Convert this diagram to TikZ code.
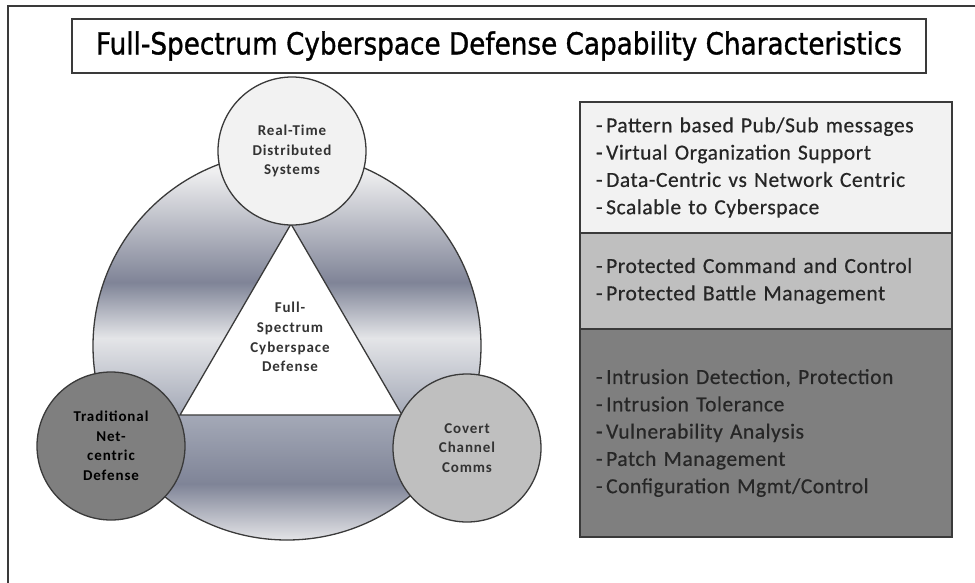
\documentclass[tikz,border=0pt]{standalone}
\usepackage{fontspec}
\usepackage{graphicx}
\setmainfont{Carlito}
\newfontfamily\titlefont[FakeBold=1.2]{DejaVu Sans}
\newfontfamily\hubfont[LetterSpace=6]{Carlito}
\newfontfamily\panelfont[LetterSpace=2.5,FakeBold=0.5]{Carlito}

\definecolor{edge}{HTML}{3A3A3A}
\definecolor{paleA}{HTML}{F2F2F2}
\definecolor{midB}{HTML}{BFBFBF}
\definecolor{darkC}{HTML}{7F7F7F}
\definecolor{ringLight}{HTML}{EFEFF0}
\definecolor{ringBand}{HTML}{E4E5E8}
\definecolor{ringDeep}{HTML}{7F8497}
\definecolor{ringMid}{HTML}{A4A9B7}
\definecolor{ringFoot}{HTML}{ECECEE}

% metallic bands of the ring: 25bp = bottom of the shaded area, 75bp = top
\pgfdeclareverticalshading{ringupper}{100bp}{%
  color(0bp)=(ringMid); color(25bp)=(ringMid); color(39.5bp)=(ringBand);
  color(50bp)=(ringDeep); color(71bp)=(ringLight); color(100bp)=(ringLight)}
\pgfdeclareverticalshading{ringlower}{100bp}{%
  color(0bp)=(ringFoot); color(25bp)=(ringFoot); color(48.5bp)=(ringDeep);
  color(75bp)=(ringMid); color(100bp)=(ringMid)}

\begin{document}
\begin{tikzpicture}[x=1pt,y=1pt,
  hub/.style={circle, draw=edge, line width=1.3pt, minimum size=148pt,
    inner sep=0pt, align=center, text=black!80,
    font=\fontsize{15}{19.5}\hubfont\bfseries},
  panel/.style={rectangle, draw=edge, line width=1.5pt, minimum width=372pt,
    text width=340pt, inner sep=0pt, align=left, text=black!85,
    font=\fontsize{21.5}{27.3}\panelfont},
  title/.style={rectangle, draw=edge, line width=2pt, minimum width=854pt,
    minimum height=54pt, inner sep=0pt}]
\useasboundingbox (0,0) rectangle (975,-582);

% outer frame (only its top and left sides fall inside the page)
\draw[edge, line width=2pt] (8,-600) -- (8,-6) -- (990,-6);

% heading
\node[title] (head) at (499,-46)
  {\resizebox{806pt}{23pt}{\titlefont Full-Spectrum Cyberspace Defense Capability Characteristics}};

% shaded ring
\begin{scope}
  \clip (287,-346) circle (194);
  \shade[shading=ringupper] (80,-150) rectangle (500,-415);
  \shade[shading=ringlower] (80,-415) rectangle (500,-545);
\end{scope}
\draw[edge, line width=1.3pt] (287,-346) circle (194);

% inner triangle
\coordinate (apex) at (291,-224);
\coordinate (tl) at (180,-415);
\coordinate (tr) at (402,-415);
\filldraw[fill=white, draw=edge, line width=1.3pt] (apex) -- (tl) -- (tr) -- cycle;
\node[align=center, text=black!80, font=\fontsize{15}{19.7}\hubfont\bfseries]
  (core) at (290,-337) {Full-\\Spectrum\\Cyberspace\\Defense};

% the three hubs
\node[hub, fill=paleA] (rt) at (292,-151) {Real-Time\\Distributed\\Systems};
\node[hub, fill=darkC, text=black] (tn) at (111,-446) {Traditional\\Net-\\centric\\Defense};
\node[hub, fill=midB] (cc) at (467,-448) {Covert\\Channel\\Comms};

% characteristics panel
\node[panel, fill=paleA, minimum height=131pt] (p1) at (766,-167.5)
  {-\,Pattern based Pub/Sub messages\\-\,Virtual Organization Support\\-\,Data-Centric vs Network Centric\\-\,Scalable to Cyberspace};
\node[panel, fill=midB, minimum height=96pt] (p2) at (766,-281)
  {-\,Protected Command and Control\\-\,Protected Battle Management};
\node[panel, fill=darkC, minimum height=208pt] (p3) at (766,-433)
  {-\,Intrusion Detection, Protection\\-\,Intrusion Tolerance\\-\,Vulnerability Analysis\\-\,Patch Management\\-\,Configuration Mgmt/Control};
\end{tikzpicture}
\end{document}
